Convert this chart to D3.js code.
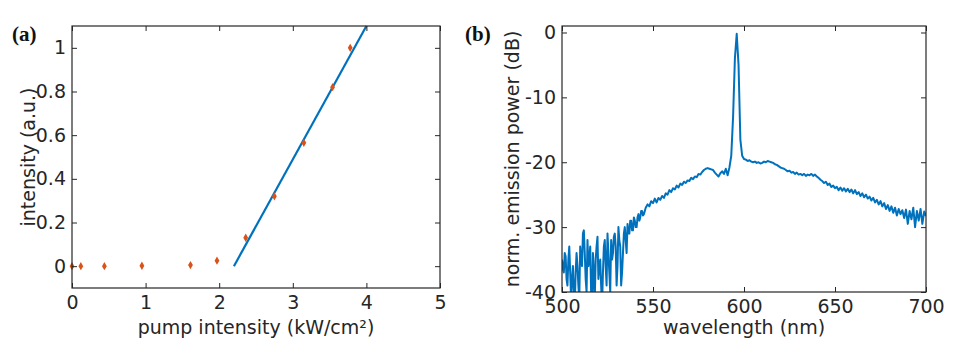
<!DOCTYPE html>
<html>
<head>
<meta charset="utf-8">
<script src="https://cdn.jsdelivr.net/npm/d3@7"></script>
<style>
  body { margin: 0; background: #fff; }
  svg { display: block; }
  .ttl { font-family: "DejaVu Sans", sans-serif; font-size: 19px; fill: #262626; }
  .tag { font-family: "Liberation Serif", serif; font-size: 21px; font-weight: bold; fill: #111; }
</style>
</head>
<body>
<div id="chart"></div>
<script>
// panel (a): threshold curve
var pumpIntensity = [0, 0.12, 0.44, 0.95, 1.61, 1.97, 2.36, 2.75, 3.15, 3.54, 3.78];
var outIntensity  = [0, 0, 0, 0.002, 0.005, 0.025, 0.13, 0.32, 0.565, 0.82, 1.0];
var fitX = [2.2, 4.0];
var fitY = [0.0, 1.1];
var pumpTicks = [0, 1, 2, 3, 4, 5];
var intTicks = [0, 0.2, 0.4, 0.6, 0.8, 1];

// panel (b): emission spectrum
// noisy blue edge, 0.5 nm steps from 500 to 545 nm
var emissionLow = [
  -35, -36.5, -37, -34, -34.5, -38, -39, -35, -33, -37,
  -41, -38, -36, -40, -42, -37, -34, -36, -39, -41,
  -33, -35, -36, -31, -30.5, -34, -38, -40, -32, -36,
  -35, -33, -40, -43, -34, -37, -41, -35, -33, -31.5,
  -38, -36, -35, -39, -42, -37, -33, -32, -36, -39,
  -31, -34, -37, -40, -32, -35, -34, -31.5, -31, -33,
  -39, -36, -30, -32, -33, -39, -37, -34, -31, -30,
  -32, -34, -29.5, -31, -31, -29, -29, -30.5, -30.5, -28.5,
  -29, -30, -30, -28.5, -28, -29, -28.5, -27.5, -27.5, -28.2,
  -28
];
// rest of the spectrum, 1 nm steps from 546 to 700 nm
var emissionHigh = [
  -27, -26.5, -26.8, -26,
  -26.3, -25.6, -26.2, -25.5, -25.8, -25.2, -25.5, -24.8, -25, -24.3,
  -24.6, -24, -24.2, -23.6, -23.9, -23.3, -23.5, -23, -23.2, -22.8,
  -22.9, -22.4, -22.6, -22.2, -22.3, -21.8, -21.9, -21.5, -21.2, -21,
  -20.9, -21, -21.1, -21.2, -21.6, -21.9, -22.2, -21.7, -21.4, -21.8,
  -21, -22, -20.8, -19, -13, -4, -0.2, -5, -16.5, -19,
  -19.5, -19.6, -19.8, -19.7, -19.9, -20, -19.9, -20.1, -20, -20.2,
  -20.1, -19.9, -20, -19.8, -19.9, -20, -20.1, -20.3, -20.4, -20.6,
  -20.8, -20.9, -21, -21.2, -21.4, -21.3, -21.6, -21.5, -21.8, -21.6,
  -21.9, -21.8, -22, -21.8, -22.1, -21.9, -22, -21.8, -22.1, -21.9,
  -22.2, -22.4, -22.7, -22.9, -23.2, -23, -23.5, -23.3, -23.8, -23.6,
  -24, -23.8, -24.3, -23.9, -24.4, -24, -24.5, -24.1, -24.6, -24.2,
  -24.8, -24.3, -24.9, -24.6, -25.2, -24.8, -25.4, -25, -25.6, -25.3,
  -25.9, -25.5, -26.2, -25.8, -26.5, -26, -26.8, -26.3, -27.2, -26.6,
  -27.5, -26.8, -27.8, -27, -28.2, -27.2, -28, -27.4, -28.6, -27.3,
  -29.5, -27.5, -28.8, -27, -30, -27.5, -29, -27.2, -29.5, -27.6,
  -28.3
];
var wlTicks = [500, 550, 600, 650, 700];
var dbTicks = [-40, -30, -20, -10, 0];

var W = 956, H = 346;
var blue = "#0072BD", orange = "#D95319", frame = "#262626";

var svg = d3.select("#chart").append("svg")
    .attr("width", W).attr("height", H);

// draws a MATLAB style box with inward ticks on all sides
function drawBox(g, x, y, xt, yt, xfmt, yfmt) {
    var x0 = x.range()[0], x1 = x.range()[1];
    var y0 = y.range()[0], y1 = y.range()[1];
    var tl = 5;
    g.append("g").attr("transform", "translate(0," + y0 + ")")
        .call(d3.axisBottom(x).tickValues(xt).tickFormat(xfmt).tickSize(-tl).tickPadding(8).tickSizeOuter(0));
    g.append("g").attr("transform", "translate(" + x0 + ",0)")
        .call(d3.axisLeft(y).tickValues(yt).tickFormat(yfmt).tickSize(-tl).tickPadding(6).tickSizeOuter(0));
    g.append("g").attr("transform", "translate(0," + y1 + ")")
        .call(d3.axisTop(x).tickValues(xt).tickFormat("").tickSize(-tl).tickSizeOuter(0));
    g.append("g").attr("transform", "translate(" + x1 + ",0)")
        .call(d3.axisRight(y).tickValues(yt).tickFormat("").tickSize(-tl).tickSizeOuter(0));
    g.selectAll(".domain").remove();
    g.selectAll(".tick line").attr("stroke", frame).attr("stroke-width", 1);
    g.selectAll(".tick text")
        .attr("font-family", "DejaVu Sans, sans-serif")
        .attr("font-size", 19)
        .attr("fill", frame);
    g.append("rect")
        .attr("x", x0).attr("y", y1)
        .attr("width", x1 - x0).attr("height", y0 - y1)
        .attr("fill", "none").attr("stroke", frame).attr("stroke-width", 1.2);
}

// ---------- panel (a) ----------
var xa = d3.scaleLinear().domain([0, 5]).range([72, 440]);
var ya = d3.scaleLinear().domain([-0.1, 1.1]).range([288, 26]);
var ga = svg.append("g");

ga.append("path")
    .datum(d3.zip(fitX, fitY))
    .attr("fill", "none").attr("stroke", blue).attr("stroke-width", 2.2)
    .attr("d", d3.line().x(function (d) { return xa(d[0]); }).y(function (d) { return ya(d[1]); }));

ga.selectAll("path.pt")
    .data(d3.zip(pumpIntensity, outIntensity))
    .enter().append("path")
    .attr("class", "pt")
    .attr("transform", function (d) { return "translate(" + xa(d[0]) + "," + ya(d[1]) + ")"; })
    .attr("d", d3.symbol().type(d3.symbolDiamond).size(20))
    .attr("fill", orange);

drawBox(ga, xa, ya, pumpTicks, intTicks, d3.format("d"), function (d) { return d === 0 || d === 1 ? d : d.toFixed(1); });

ga.append("text").attr("class", "ttl")
    .attr("x", xa(2.5)).attr("y", 334).attr("text-anchor", "middle")
    .text("pump intensity (kW/cm²)");
ga.append("text").attr("class", "ttl")
    .attr("transform", "translate(35,157)rotate(-90)").attr("text-anchor", "middle")
    .text("intensity (a.u.)");
svg.append("text").attr("class", "tag").attr("x", 12).attr("y", 41).text("(a)");

// ---------- panel (b) ----------
var xb = d3.scaleLinear().domain([500, 700]).range([562, 926]);
var yb = d3.scaleLinear().domain([-40, 1]).range([292, 26]);
var gb = svg.append("g");

var spectrum = emissionLow.map(function (v, i) { return [500 + i * 0.5, v]; })
    .concat(emissionHigh.map(function (v, i) { return [546 + i, v]; }));

gb.append("clipPath").attr("id", "clipb").append("rect")
    .attr("x", 562).attr("y", 26).attr("width", 364).attr("height", 266);

gb.append("path")
    .datum(spectrum)
    .attr("clip-path", "url(#clipb)")
    .attr("fill", "none").attr("stroke", blue).attr("stroke-width", 2)
    .attr("stroke-linejoin", "round")
    .attr("d", d3.line()
        .x(function (d) { return xb(d[0]); })
        .y(function (d) { return yb(d[1]); }));

drawBox(gb, xb, yb, wlTicks, dbTicks, d3.format("d"), function (d) { return d < 0 ? "-" + (-d) : d; });

gb.append("text").attr("class", "ttl")
    .attr("x", xb(600)).attr("y", 334).attr("text-anchor", "middle")
    .text("wavelength (nm)");
gb.append("text").attr("class", "ttl")
    .attr("transform", "translate(519,159)rotate(-90)").attr("text-anchor", "middle")
    .text("norm. emission power (dB)");
svg.append("text").attr("class", "tag").attr("x", 465).attr("y", 41).text("(b)");
</script>
</body>
</html>
